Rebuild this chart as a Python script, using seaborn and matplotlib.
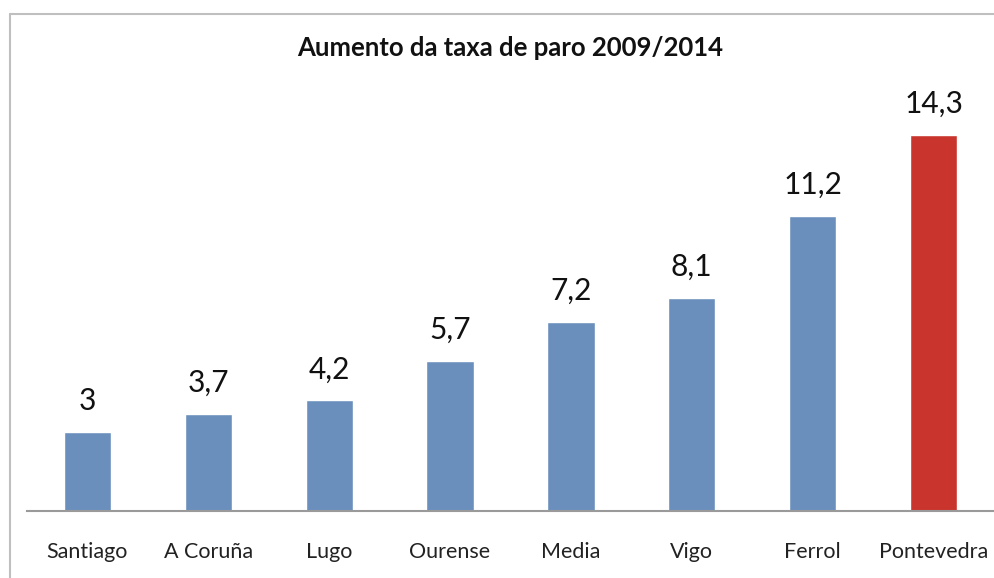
import matplotlib
matplotlib.use("Agg")
import matplotlib.pyplot as plt
import seaborn as sns
import pandas as pd
from matplotlib.lines import Line2D

categories = ["Santiago", "A Coruña", "Lugo", "Ourense", "Media", "Vigo", "Ferrol", "Pontevedra"]
values = [3, 3.7, 4.2, 5.7, 7.2, 8.1, 11.2, 14.3]
value_labels = ["3", "3,7", "4,2", "5,7", "7,2", "8,1", "11,2", "14,3"]
colors = ["#6a8fbd"] * 7 + ["#c9352d"]
title = "Aumento da taxa de paro 2009/2014"

sns.set_theme(style="white")
plt.rcParams['font.family'] = ['Lato', 'DejaVu Sans']

df = pd.DataFrame({"cat": categories, "val": values})

fig = plt.figure(figsize=(9.95, 5.78), dpi=100)
ax = fig.add_axes([27/995, (578-511)/578, (994-27)/995, (511-90)/578])
sns.barplot(data=df, x="cat", y="val", hue="cat", palette=colors, legend=False,
            width=0.39, ax=ax, saturation=1)
ax.set_ylim(0, 16)
ax.set_xlim(-0.5, len(categories) - 0.5)
for i, (v, lab) in enumerate(zip(values, value_labels)):
    ax.text(i, v + 0.65, lab, ha="center", va="bottom", fontsize=21.5, color="#111111")
ax.set_xlabel("")
ax.set_ylabel("")
ax.set_yticks([])
for s in ["top", "right", "left"]:
    ax.spines[s].set_visible(False)
ax.spines["bottom"].set_color("#9a9a9a")
ax.spines["bottom"].set_linewidth(1.5)
ax.tick_params(axis="x", length=0, pad=22, labelsize=15.5, colors="#222222")

fig.text(510/995, 1 - 48/578, title, ha="center", va="center", fontsize=18.5,
         fontweight="bold", color="#111111")
fig.lines.append(Line2D([9.5/995, 9.5/995], [0, 1 - 14/578], transform=fig.transFigure,
                        color="#bfbfbf", linewidth=1.5))
fig.lines.append(Line2D([9.5/995, 1], [1 - 14/578, 1 - 14/578], transform=fig.transFigure,
                        color="#bfbfbf", linewidth=1.5))
fig.savefig("out.png", dpi=100)
